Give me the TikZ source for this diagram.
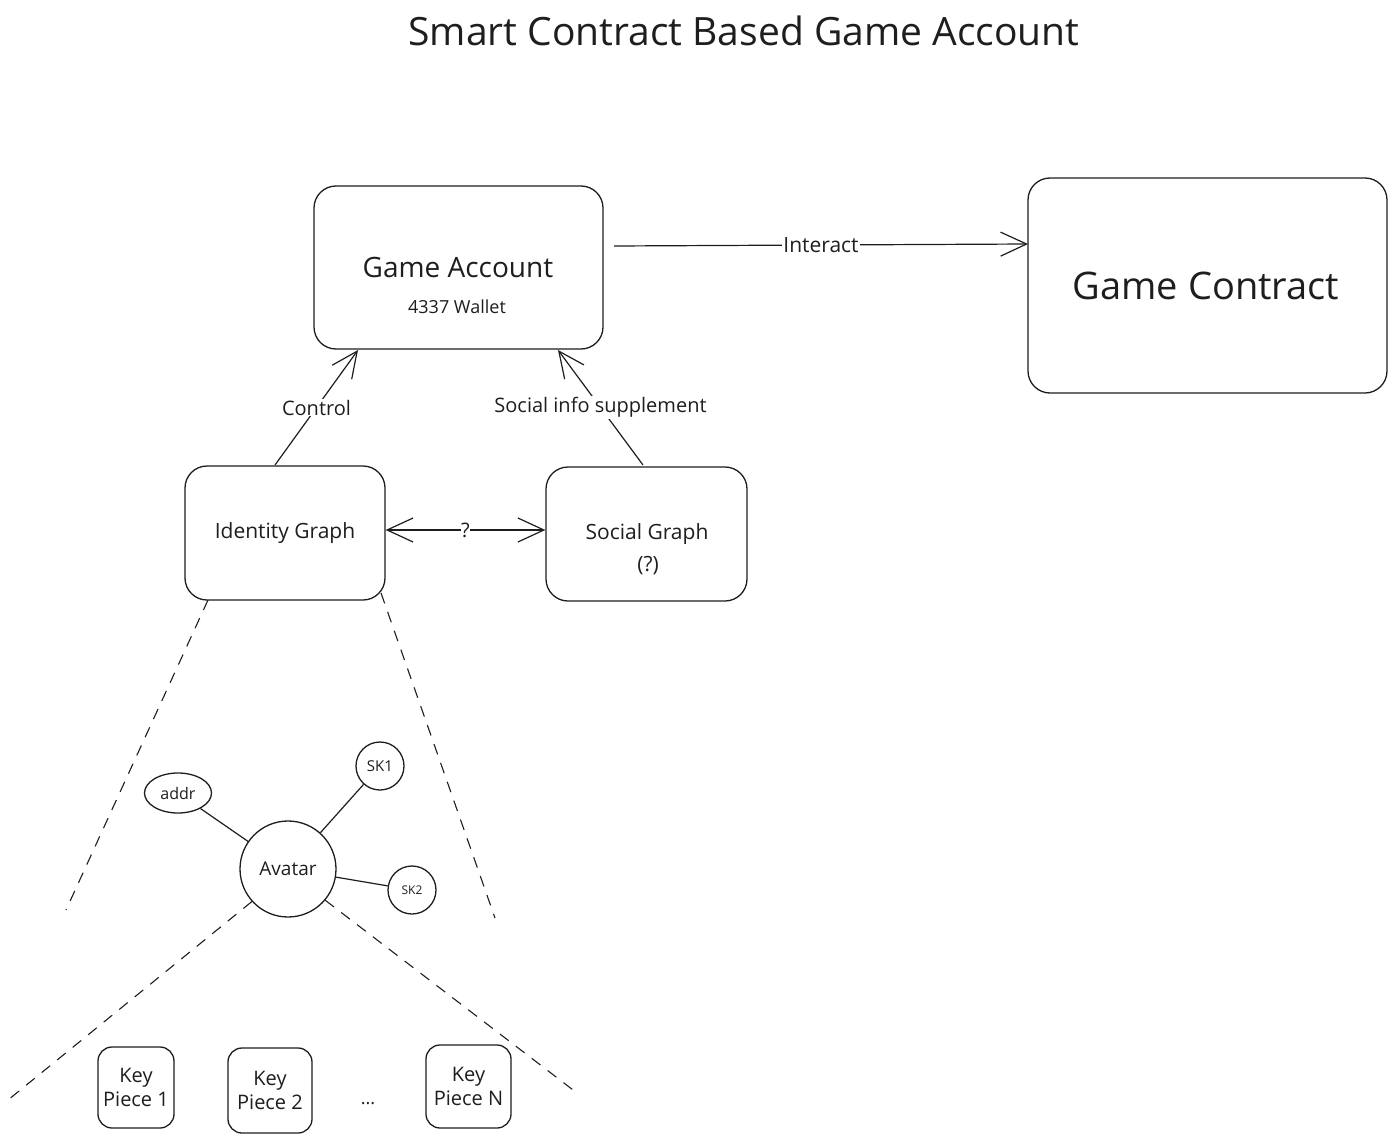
\documentclass[tikz,border=0pt]{standalone}
\usepackage{fontspec}
\setmainfont{Open Sans}
\usetikzlibrary{arrows.meta,shapes.geometric}
\definecolor{ink}{HTML}{1E1E1E}
\tikzset{
  box/.style={draw=ink, line width=1.3pt, rounded corners=22pt, inner sep=0pt},
  smallbox/.style={draw=ink, line width=1.3pt, rounded corners=14pt, inner sep=0pt},
  conn/.style={draw=ink, line width=1.2pt},
  arr/.style={conn, -{Straight Barb[length=26pt,width=24pt,line width=1.2pt]}},
  darr/.style={conn, {Straight Barb[length=26pt,width=24pt,line width=1.2pt]}-{Straight Barb[length=26pt,width=24pt,line width=1.2pt]}},
  dashline/.style={draw=ink, line width=1.1pt, dash pattern=on 11pt off 9pt},
  lbl/.style={fill=white, inner sep=1pt, text=ink, font=\fontsize{20}{24}\selectfont},
  txt/.style={text=ink, align=center},
  circ/.style={draw=ink, line width=1.3pt, circle, inner sep=0pt}
}
\begin{document}
\begin{tikzpicture}[x=1pt,y=-1pt]
\useasboundingbox[fill=white] (0,0) rectangle (1397,1142);
% title
\node[txt, font=\fontsize{39}{46}\selectfont] (title) at (744,31) {Smart Contract Based Game Account};
% boxes
\node[box, minimum width=289pt, minimum height=163pt] (ga) at (458.5,267.5) {};
\node[txt, font=\fontsize{28}{32}\selectfont] (gat) at (458,267) {Game Account};
\node[txt, font=\fontsize{18}{21}\selectfont] (gaw) at (457,307) {4337 Wallet};
\node[box, minimum width=359pt, minimum height=215pt] (gc) at (1207.5,285.5) {};
\node[txt, font=\fontsize{38}{44}\selectfont] (gct) at (1206,286) {Game Contract};
\node[box, minimum width=200pt, minimum height=134pt] (ig) at (285,533) {};
\node[txt, font=\fontsize{21}{24}\selectfont] (igt) at (285,533) {Identity Graph};
\node[box, minimum width=201pt, minimum height=134pt] (sg) at (646.5,534) {};
\node[txt, font=\fontsize{21}{24}\selectfont] (sgt) at (647,534) {Social Graph};
\node[txt, font=\fontsize{21}{24}\selectfont] (sgq) at (648,566) {(?)};
% connectors
\coordinate (ga-r) at (614,246);
\coordinate (gc-l) at (1028,244);
\draw[arr] (ga-r) -- node[lbl, font=\fontsize{21}{24}\selectfont] {Interact} (gc-l);
\coordinate (ig-t) at (275,465);
\coordinate (ga-bl) at (358,350);
\draw[arr] (ig-t) -- node[lbl, pos=0.5] {Control} (ga-bl);
\coordinate (sg-t) at (643,465);
\coordinate (ga-br) at (558,350);
\draw[arr] (sg-t) -- node[lbl, pos=0.5] {Social info supplement} (ga-br);
\draw[darr] (ig.east |- 0,530) -- node[lbl, inner sep=0.5pt] {?} (sg.west |- 0,530);
% dashed cone from identity graph
\coordinate (c1a) at (208,600);
\coordinate (c1b) at (66,910);
\coordinate (c2a) at (381,593);
\coordinate (c2b) at (495,918);
\draw[dashline] (c1a) -- (c1b);
\draw[dashline] (c2a) -- (c2b);
% avatar cluster
\node[circ, minimum size=96pt] (av) at (288,869) {};
\node[txt, font=\fontsize{19}{22}\selectfont] (avt) at (288,869) {Avatar};
\node[draw=ink, line width=1.3pt, ellipse, minimum width=67pt, minimum height=40pt, inner sep=0pt, txt, font=\fontsize{16}{19}\selectfont] (addr) at (178,793) {addr};
\node[circ, minimum size=48pt, txt, font=\fontsize{15}{18}\selectfont] (sk1) at (380,766) {SK1};
\node[circ, minimum size=48pt, txt, font=\fontsize{12}{14}\selectfont] (sk2) at (412,890) {SK2};
\draw[conn] (addr) -- (av);
\draw[conn] (sk1) -- (av);
\draw[conn] (av) -- (sk2);
% dashed cone from avatar
\coordinate (c3b) at (8,1100);
\coordinate (c4b) at (577,1093);
\draw[dashline] (av.222) -- (c3b);
\draw[dashline] (av.-40) -- (c4b);
% key pieces
\node[smallbox, minimum width=76pt, minimum height=81pt, txt, font=\fontsize{20}{24}\selectfont] (k1) at (136,1087.5) {Key\\Piece 1};
\node[smallbox, minimum width=84pt, minimum height=85pt, txt, font=\fontsize{20}{24}\selectfont] (k2) at (270,1090.5) {Key\\Piece 2};
\node[smallbox, minimum width=85pt, minimum height=83pt, txt, font=\fontsize{20}{24}\selectfont] (kn) at (468.5,1086.5) {Key\\Piece N};
\node[txt, font=\fontsize{18}{21}\selectfont] (dots) at (368,1104) {...};
\end{tikzpicture}
\end{document}
